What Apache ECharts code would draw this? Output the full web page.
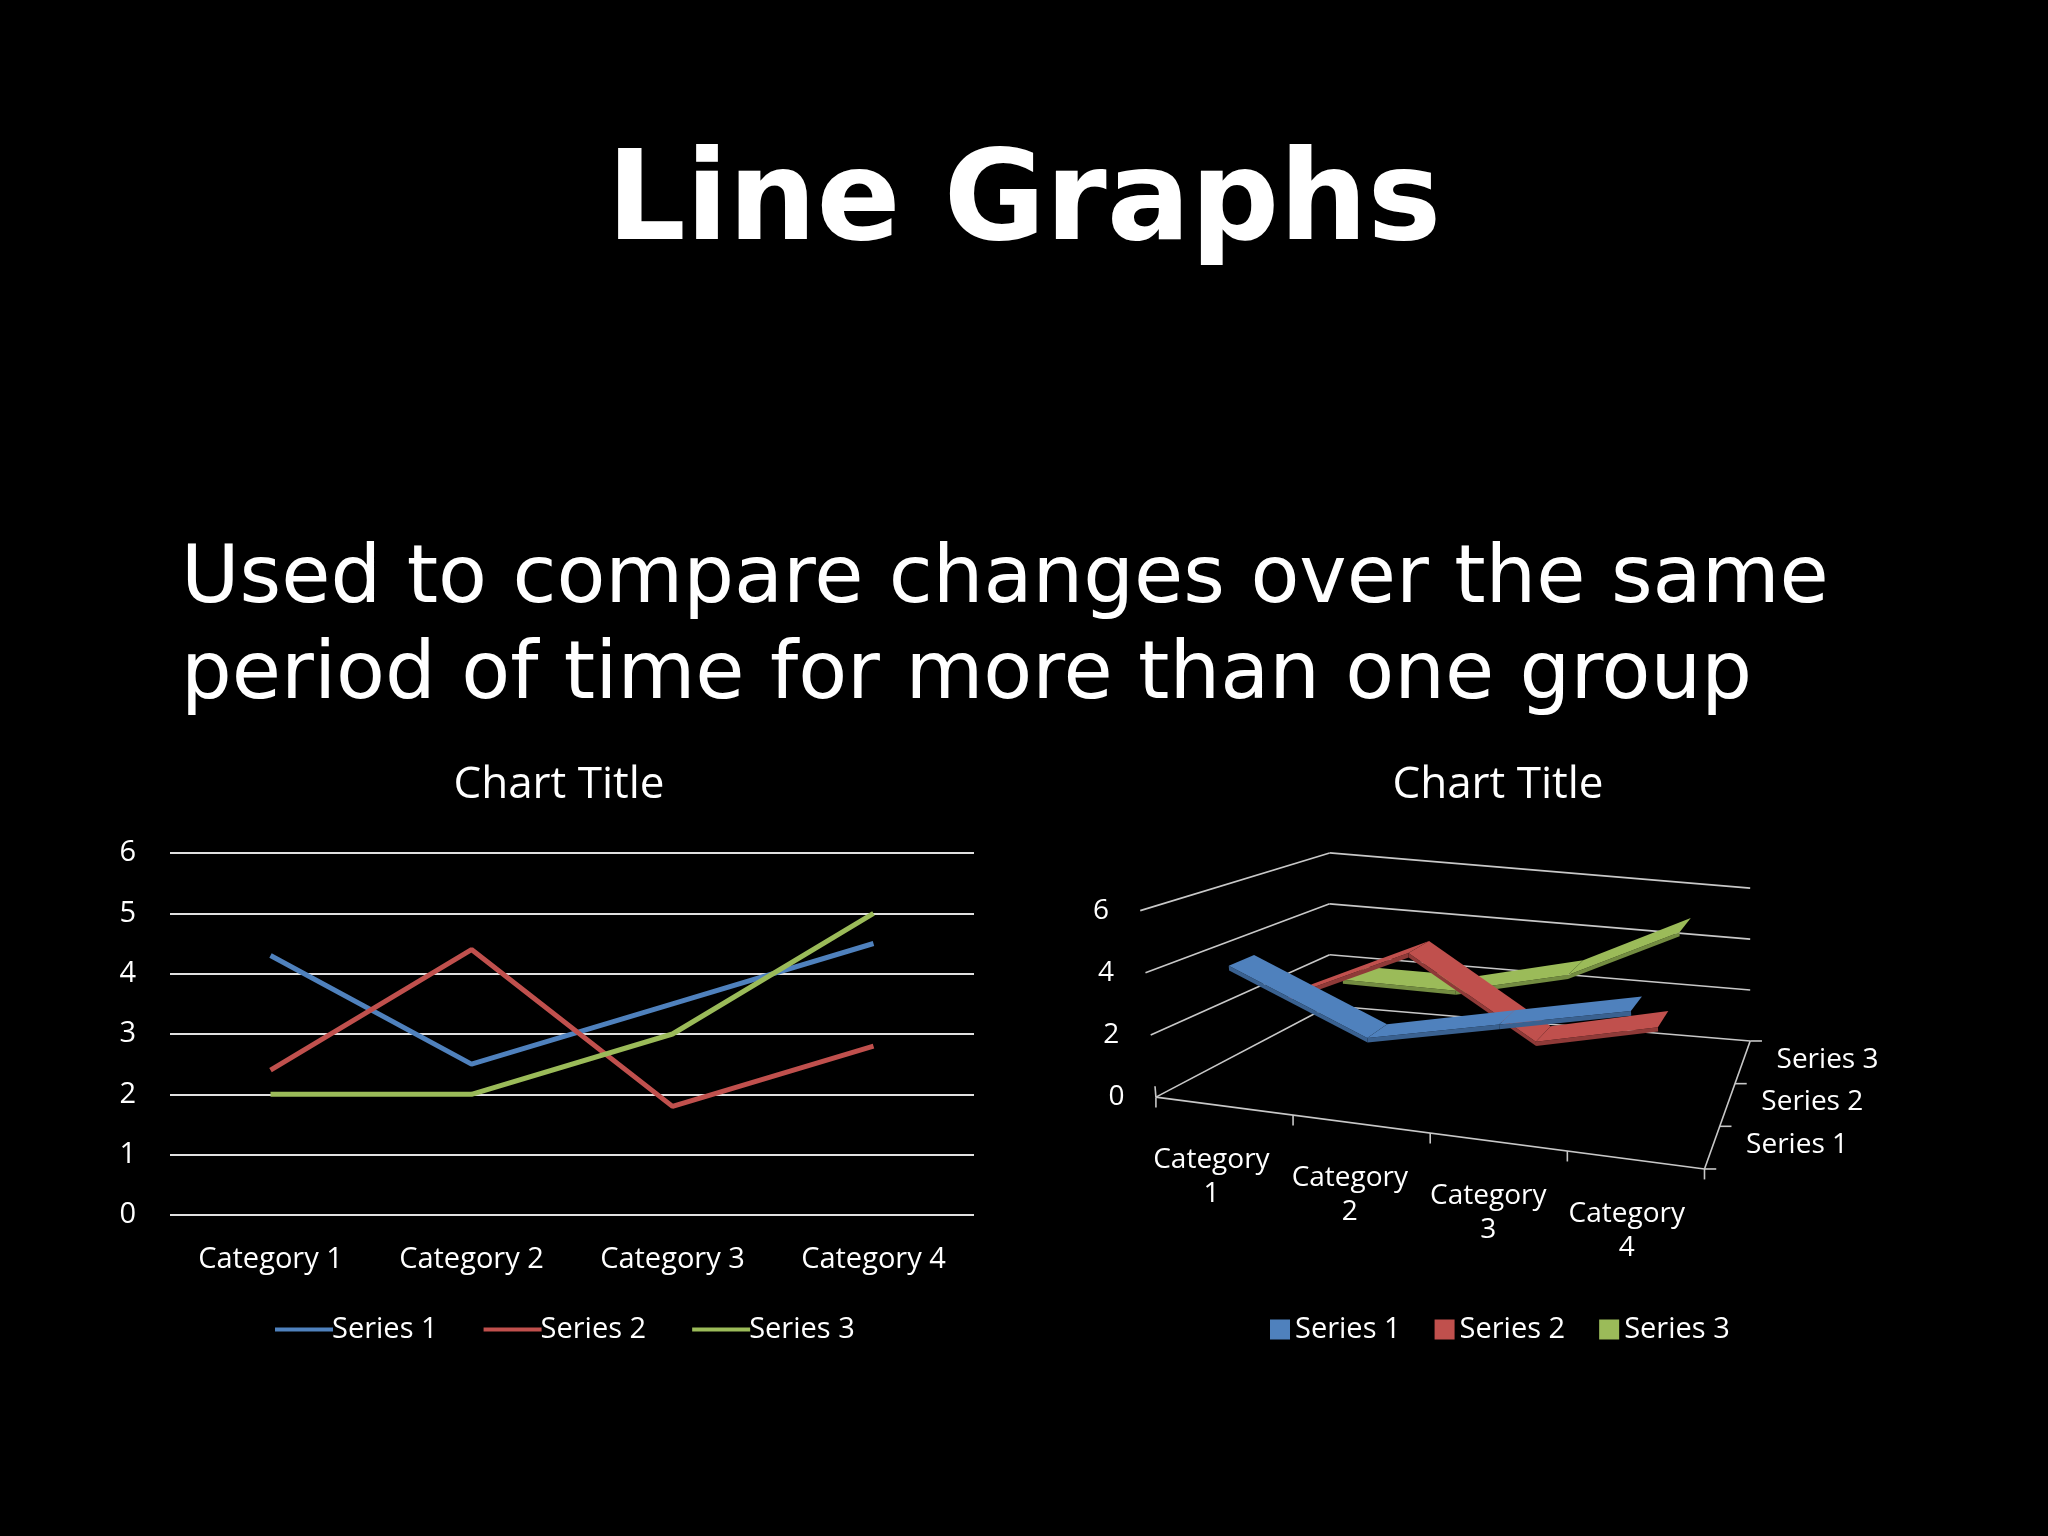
<!DOCTYPE html>
<html><head><meta charset="utf-8">
<script src="https://cdn.jsdelivr.net/npm/echarts@6/dist/echarts.min.js"></script>
<style>html,body{margin:0;padding:0;background:#000}#c{width:2048px;height:1536px}</style>
</head><body><div id="c"></div>
<script>
const categories = ['Category 1','Category 2','Category 3','Category 4'];
const series1 = [4.3, 2.5, 3.5, 4.5];
const series2 = [2.4, 4.4, 1.8, 2.8];
const series3 = [2, 2, 3, 5];
const seriesNames = ['Series 1','Series 2','Series 3'];
const colors = ['#4F81BD','#C0504D','#9BBB59'];
const darkColors = ['#3A6190','#8F3A38','#738C41'];
const valueTicks = [0,2,4,6];
const allSeries = [series1, series2, series3];

const FONT = '"Open Sans", "Liberation Sans", sans-serif';

function P(c,d,v){
  const fx = (1-d)*((1-c)*885 + c*1305) + d*((1-c)*1018 + c*1340);
  const fy = (1-d)*((1-c)*840 + c*895) + d*((1-c)*770 + c*797);
  const h = 23.8*(1-d) + 19.5*d;
  return [fx - 2*(1-d)*v, fy - h*v];
}

function frameRender(params, api){
  const ch = [];
  const C = (c,d,v)=>api.coord(P(c,d,v));
  const line = (a,b)=>ch.push({type:'line',shape:{x1:a[0],y1:a[1],x2:b[0],y2:b[1]},style:{stroke:'#c8c8c8',lineWidth:1.6}});
  valueTicks.forEach(v=>{
    line(C(0,0,v),C(0,1,v));
    line(C(0,1,v),C(1,1,v));
  });
  line(C(0,0,0),C(1,0,0));
  line(C(1,0,0),C(1,1,0));
  line(C(0,0,0),C(0,0,0.35));
  for(let i=0;i<=4;i++){ const c=i/4; line(C(c,0,0),api.coord([P(c,0,0)[0],P(c,0,0)[1]+8])); }
  for(let s=0;s<=3;s++){ const d=s/3; const p=P(1,d,0); line(api.coord(p),api.coord([p[0]+9,p[1]])); }
  valueTicks.forEach(v=>{
    const p=P(0,0,v);
    const q=api.coord([p[0]-24,p[1]]);
    ch.push({type:'text',style:{text:String(v),x:q[0],y:q[1],fill:'#fff',font:'28px '+FONT,align:'right',verticalAlign:'middle'}});
  });
  categories.forEach((cat,i)=>{
    const c=(i+0.5)/4; const p=P(c,0,0);
    const q=api.coord([p[0]-10+ i*1,p[1]+28]);
    const parts=cat.split(' ');
    ch.push({type:'text',style:{text:parts[0]+'\n'+parts[1],x:q[0],y:q[1],fill:'#fff',font:'28px '+FONT,align:'center',verticalAlign:'top',lineHeight:34}});
  });
  seriesNames.forEach((n,s)=>{
    const d=(s+0.5)/3; const p=P(1,d,0);
    const q=api.coord([p[0]+26,p[1]-2]);
    ch.push({type:'text',style:{text:n,x:q[0],y:q[1],fill:'#fff',font:'28px '+FONT,align:'left',verticalAlign:'middle'}});
  });
  return {type:'group',children:ch};
}

function ribbonRender(s){
  return function(params, api){
    const vals = allSeries[s];
    const d0=(s+0.5)/3-0.075, d1=(s+0.5)/3+0.075;
    const ch=[];
    for(let i=0;i<vals.length-1;i++){
      const c0=(i+0.5)/4, c1=(i+1.5)/4, v0=vals[i], v1=vals[i+1];
      const top=[P(c0,d0,v0),P(c0,d1,v0),P(c1,d1,v1),P(c1,d0,v1)].map(p=>api.coord(p));
      const front=[P(c0,d0,v0),P(c1,d0,v1),P(c1,d0,v1-0.15),P(c0,d0,v0-0.15)].map(p=>api.coord(p));
      ch.push({type:'polygon',shape:{points:front},style:{fill:darkColors[s]}});
      ch.push({type:'polygon',shape:{points:top},style:{fill:colors[s]}});
    }
    return {type:'group',children:ch};
  };
}

const chart = echarts.init(document.getElementById('c'));
chart.setOption({
  backgroundColor:'#000',
  animation:false,
  title:[
    {text:'Line Graphs',left:'center',top:140,textStyle:{color:'#fff',fontSize:124,fontWeight:'bold',fontFamily:'"DejaVu Sans", Verdana, sans-serif'}},
    {text:'Used to compare changes over the same\nperiod of time for more than one group',left:176,top:528,textStyle:{color:'#fff',fontSize:80,fontWeight:'normal',lineHeight:96,fontFamily:'"DejaVu Sans", Verdana, sans-serif'}},
    {text:'Chart Title',left:554,textAlign:'center',top:758,textStyle:{color:'#fff',fontSize:44,fontWeight:'normal',fontFamily:FONT}},
    {text:'Chart Title',left:1493,textAlign:'center',top:758,textStyle:{color:'#fff',fontSize:44,fontWeight:'normal',fontFamily:FONT}}
  ],
  legend:[
    {data:seriesNames.map(n=>({name:n})),left:270,top:1310,icon:'rect',itemWidth:58,itemHeight:4,itemGap:46,
      textStyle:{color:'#fff',fontSize:29,fontFamily:FONT,padding:[0,0,0,-6]},selectedMode:false},
    {data:seriesNames.map(n=>({name:'3d '+n})),formatter:n=>n.replace('3d ',''),left:1265,top:1310,icon:'rect',itemWidth:20,itemHeight:20,itemGap:34,
      textStyle:{color:'#fff',fontSize:29,fontFamily:FONT},selectedMode:false}
  ],
  grid:[
    {left:170,right:1074,top:853,bottom:321},
    {left:0,top:0,width:2048,height:1536}
  ],
  xAxis:[
    {type:'category',gridIndex:0,data:categories,boundaryGap:true,axisLine:{show:false},axisTick:{show:false},
      axisLabel:{color:'#fff',fontSize:29,fontFamily:FONT,margin:30}},
    {type:'value',gridIndex:1,min:0,max:1568,show:false}
  ],
  yAxis:[
    {type:'value',gridIndex:0,min:0,max:6,interval:1,axisLine:{show:false},axisTick:{show:false},
      splitLine:{lineStyle:{color:'#e0e0e0',width:2}},axisLabel:{color:'#fff',fontSize:29,fontFamily:FONT,margin:34}},
    {type:'value',gridIndex:1,min:0,max:1176,inverse:true,show:false}
  ],
  series:[
    ...allSeries.map((d,s)=>({type:'line',name:seriesNames[s],xAxisIndex:0,yAxisIndex:0,data:d,symbol:'none',
      lineStyle:{color:colors[s],width:5},itemStyle:{color:colors[s]}})),
    {type:'custom',name:'frame',xAxisIndex:1,yAxisIndex:1,data:[[0,0]],renderItem:frameRender,z:1,silent:true},
    ...[2,1,0].map(s=>({type:'custom',name:'3d '+seriesNames[s],xAxisIndex:1,yAxisIndex:1,data:[[0,0]],renderItem:ribbonRender(s),z:2+(2-s),silent:true,itemStyle:{color:colors[s]}}))
  ]
});
</script></body></html>
